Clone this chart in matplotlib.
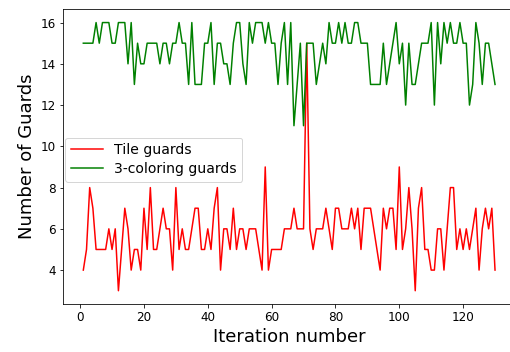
import numpy as np
import matplotlib
matplotlib.use("Agg")
import matplotlib.pyplot as plt

# iteration index
iterations = np.arange(1, 131)

tile_guards = [4, 5, 8, 7, 5, 5, 5, 5, 6, 5,
               6, 3, 5, 7, 6, 4, 5, 5, 4, 7,
               5, 8, 5, 5, 6, 7, 6, 6, 4, 8,
               5, 6, 5, 5, 6, 7, 7, 5, 5, 6,
               5, 7, 8, 4, 6, 6, 5, 7, 5, 6,
               6, 5, 6, 6, 6, 5, 4, 9, 4, 5,
               5, 5, 5, 6, 6, 6, 7, 6, 6, 6,
               15, 6, 5, 6, 6, 6, 7, 6, 5, 7,
               7, 6, 6, 6, 7, 6, 7, 5, 7, 7,
               7, 6, 5, 4, 7, 6, 7, 7, 5, 9,
               5, 6, 8, 6, 3, 7, 8, 5, 5, 4,
               4, 6, 6, 4, 6, 8, 8, 5, 6, 5,
               6, 5, 6, 7, 4, 6, 7, 6, 7, 4]

coloring_guards = [15, 15, 15, 15, 16, 15, 16, 16, 16, 15,
                   15, 16, 16, 16, 14, 16, 13, 15, 14, 14,
                   15, 15, 15, 15, 14, 15, 15, 14, 15, 15,
                   16, 15, 15, 13, 16, 13, 13, 13, 15, 15,
                   16, 13, 15, 15, 14, 14, 13, 15, 16, 16,
                   14, 13, 16, 15, 16, 16, 16, 15, 16, 15,
                   15, 13, 15, 16, 13, 16, 11, 13, 15, 11,
                   15, 15, 15, 13, 14, 15, 14, 16, 15, 15,
                   16, 15, 16, 15, 15, 16, 16, 15, 15, 15,
                   13, 13, 13, 13, 15, 13, 14, 15, 16, 14,
                   15, 12, 15, 13, 13, 14, 15, 15, 15, 16,
                   12, 16, 14, 16, 15, 16, 15, 15, 16, 15,
                   15, 12, 13, 16, 15, 13, 15, 15, 14, 13]

fig = plt.figure(figsize=(510 / 72, 352 / 72), dpi=72)
# right edge of the axes is cut off in the reference, so it runs past the canvas
ax = fig.add_axes([0.123, 0.136, 0.888, 0.838])

ax.plot(iterations, tile_guards, 'r', label='Tile guards')
ax.plot(iterations, coloring_guards, 'g', label='3-coloring guards')

ax.spines['right'].set_visible(False)
ax.tick_params(labelsize=12)
ax.set_xlabel('Iteration number', fontsize=18)
ax.set_ylabel('Number of Guards', fontsize=18)
ax.legend(loc='center left', fontsize=14, handlelength=2.3, labelspacing=0.35,
          bbox_to_anchor=(-0.01, 0.49))

fig.savefig('out.png', dpi=72)
